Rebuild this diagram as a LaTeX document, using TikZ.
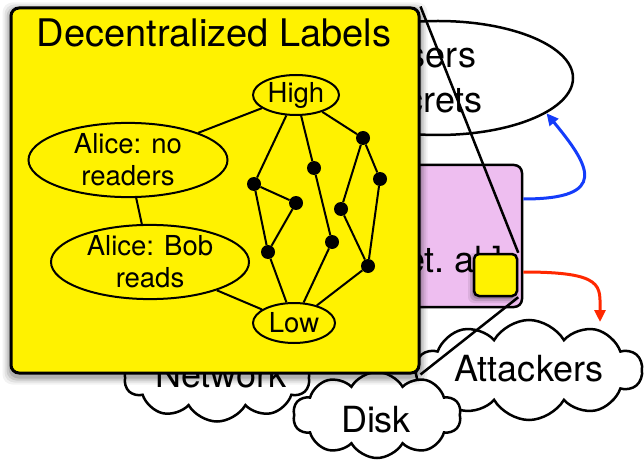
\documentclass[tikz,border=0pt]{standalone}
\usepackage{fontspec}
\setmainfont{TeX Gyre Heros}
\usetikzlibrary{shapes.geometric,shapes.symbols,arrows.meta,calc}
\definecolor{pinkbox}{RGB}{238,190,240}
\definecolor{bluearr}{RGB}{20,60,250}
\definecolor{redarr}{RGB}{255,40,0}
\pgfdeclarelayer{back}
\pgfsetlayers{back,main}
\begin{document}
\begin{tikzpicture}[x=1pt,y=1pt,
  big/.style={font=\fontsize{36}{43}\selectfont},
  lbl/.style={font=\fontsize{27.5}{32}\selectfont},
  cloudnode/.style={cloud, cloud puffs=10, cloud puff arc=120, aspect=2, draw, line width=2.5pt, fill=white, inner sep=0pt},
  dot/.style={circle, fill=black, inner sep=0pt, minimum size=14pt},
  lattice/.style={ellipse, draw, line width=2pt, fill=yellow, inner sep=0pt},
  edge/.style={line width=2pt},
  zoomline/.style={line width=2.5pt},
  arr/.style={line width=3pt, -{Triangle[length=12pt,width=11pt]}},
]
\useasboundingbox (0,0) rectangle (644,461);

% magnified box (main layer)
\node[draw, fill=yellow, rounded corners=8pt, line width=3pt, minimum width=408pt, minimum height=365pt, inner sep=0pt] (ybox) at (215,270.5) {};

\begin{pgfonlayer}{back}
\node[ellipse, draw, line width=2.5pt, fill=white, minimum width=270pt, minimum height=114pt] (users) at (438,383) {};
\node[big, anchor=base, inner sep=0pt] (userstext1) at (429,393) {Users};
\node[big, anchor=base, inner sep=0pt] (userstext2) at (422,348) {Secrets};

\node[draw, fill=pinkbox, rounded corners=8pt, line width=2.5pt, minimum width=262pt, minimum height=142pt, inner sep=0pt] (pink) at (391,225) {};
\node[big, anchor=base east, inner sep=0pt] (pinktext) at (503,189) {[Myers et.\ al.]};

\node[cloudnode, minimum width=185pt, minimum height=87pt] (net) at (217,83) {};
\node[big, inner sep=0pt] (nettext) at (221,86) {Network};
\node[cloudnode, minimum width=226pt, minimum height=100pt] (att) at (529,91) {};
\node[big, inner sep=0pt] (atttext) at (529,92) {Attackers};
\node[cloudnode, minimum width=168pt, minimum height=86pt] (disk) at (377,46) {};
\node[big, inner sep=0pt] (disktext) at (376,41) {Disk};

\coordinate (redtip) at (600,139);
\draw[arr, bluearr] ([yshift=37pt]pink.east) .. controls (610,262) and (590,295) .. (users.-18);
\draw[arr, redarr] ([yshift=-36pt]pink.east) .. controls (605,189) and (600,175) .. (redtip);

\foreach \s/\o in {4/0.08,2/0.12,0/0.15}
  \fill[black, opacity=\o, rounded corners=6pt] (472-\s,162-\s) rectangle (515+\s,204+\s);
\node[draw, fill=yellow, rounded corners=5pt, line width=2.5pt, minimum width=43pt, minimum height=42pt, inner sep=0pt] (mini) at (495.5,186) {};

\draw[zoomline] (mini.north east) -- (ybox.north east);
\draw[zoomline] (mini.south east) -- (ybox.south east);

\foreach \s/\o in {7/0.05,5/0.07,3/0.1,1/0.12}
  \fill[black, opacity=\o, rounded corners=10pt] ($(ybox.south west)+(-\s,-\s-3)$) rectangle ($(ybox.north east)+(\s,\s-3)$);
\end{pgfonlayer}

\node[font=\fontsize{38}{45}\selectfont, inner sep=0pt] (title) at (214,428) {Decentralized Labels};

\node[lattice, lbl, minimum width=86pt, minimum height=40pt] (high) at (296,366) {High};
\node[lattice, lbl, minimum width=82pt, minimum height=40pt] (low) at (294,138) {Low};
\node[lattice, lbl, align=center, minimum width=199pt, minimum height=71pt] (alno) at (128,301) {Alice: no\\readers};
\node[lattice, lbl, align=center, minimum width=198pt, minimum height=70pt] (albob) at (150,199) {Alice: Bob\\reads};

\node[dot] (d1) at (363,323) {};
\node[dot] (d2) at (314,293) {};
\node[dot] (d3) at (254,277) {};
\node[dot] (d4) at (380,282) {};
\node[dot] (d5) at (296,258) {};
\node[dot] (d6) at (341,252) {};
\node[dot] (d7) at (268,209) {};
\node[dot] (d8) at (332,219) {};
\node[dot] (d9) at (368,195) {};

\draw[edge] (high) -- (alno);
\draw[edge] (alno) -- (albob);
\draw[edge] (albob) -- (low);
\draw[edge] (high) -- (d3);
\draw[edge] (high) -- (d2);
\draw[edge] (high) -- (d1);
\draw[edge] (d3) -- (d5);
\draw[edge] (d5) -- (d7);
\draw[edge] (d3) -- (d7);
\draw[edge] (d2) -- (d8);
\draw[edge] (d1) -- (d6);
\draw[edge] (d1) -- (d4);
\draw[edge] (d6) -- (d9);
\draw[edge] (d4) -- (d9);
\draw[edge] (d7) -- (low);
\draw[edge] (d8) -- (low);
\draw[edge] (d9) -- (low);
\end{tikzpicture}
\end{document}
